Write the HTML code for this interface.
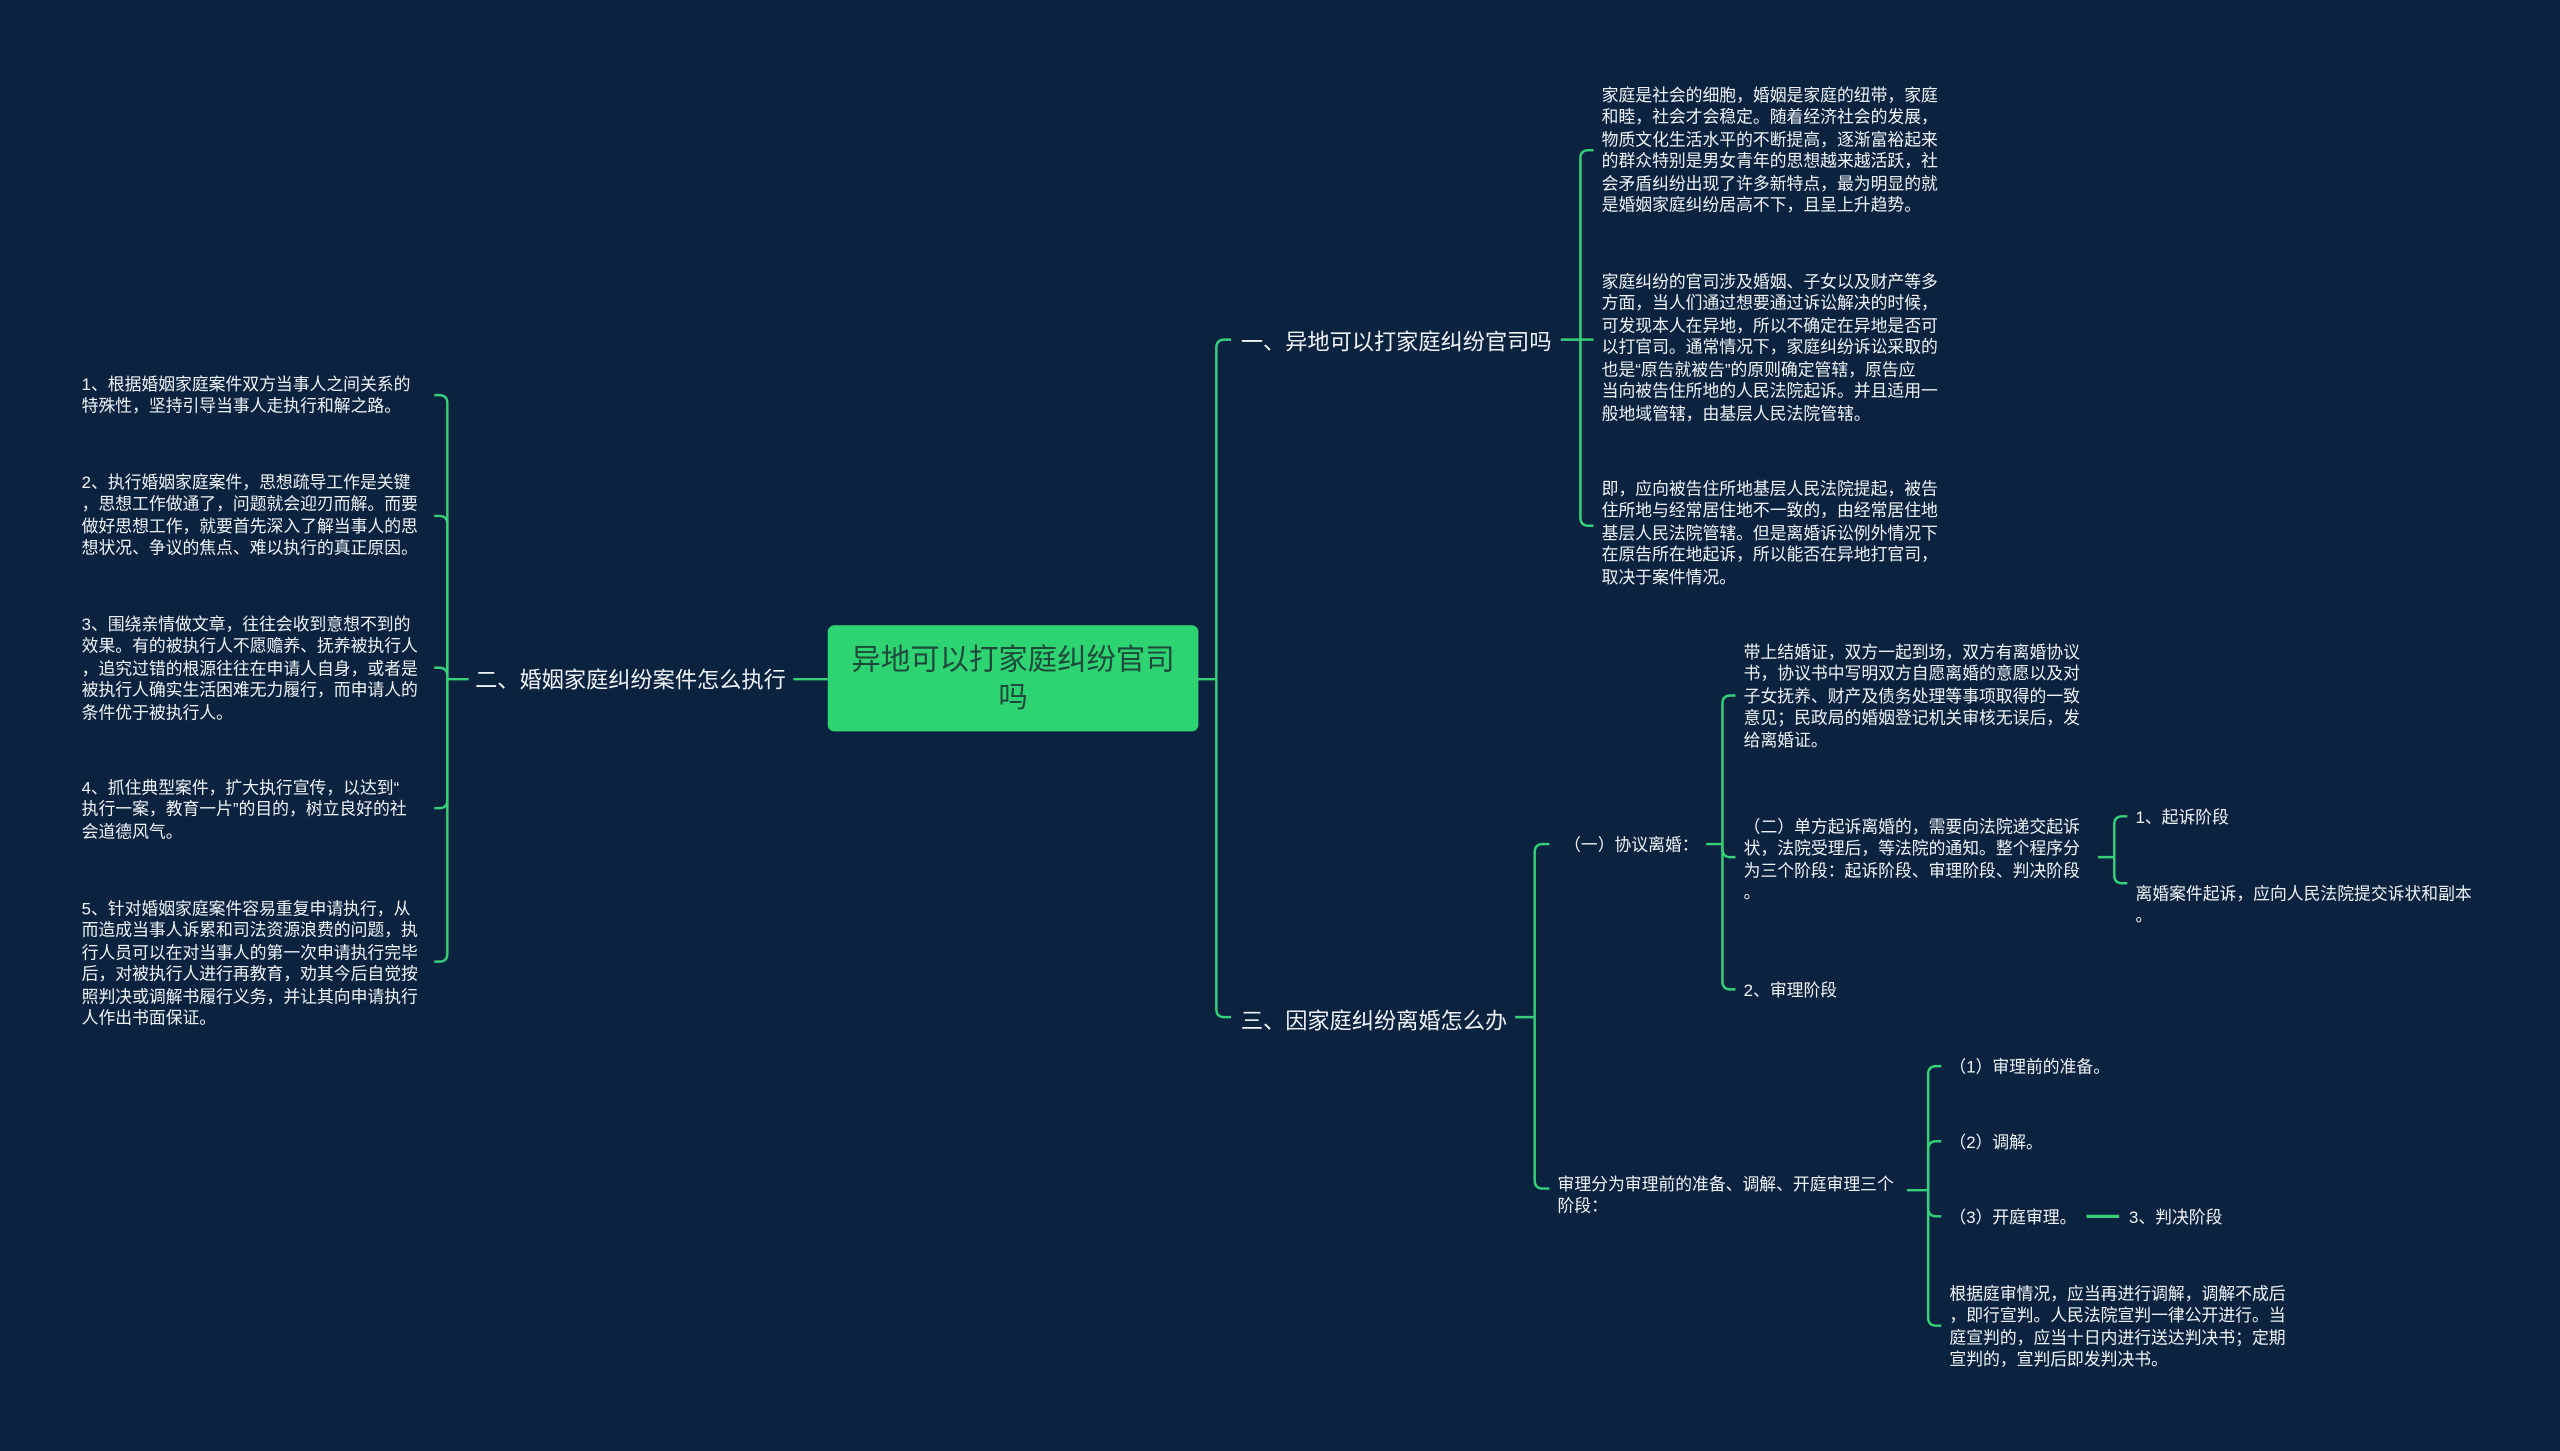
<!DOCTYPE html>
<html><head><meta charset="utf-8"><style>
html,body{margin:0;padding:0;background:#0c2340;}
#w{position:absolute;left:0;top:0;width:1568px;height:889px;transform:scale(1.63265);transform-origin:0 0;background:#0c2340;overflow:hidden;font-family:"Liberation Sans","Noto Sans CJK SC",sans-serif;color:#eef2f6;}
.t{position:absolute;font-size:10.3px;line-height:13.6px;white-space:nowrap;margin-top:1.5px;}
.b{position:absolute;font-size:13.6px;line-height:18px;white-space:nowrap;margin-top:1.5px;}
#root{position:absolute;left:507px;top:383px;width:227px;height:65px;background:#2fd472;border-radius:4px;color:#1d4a3a;font-size:18px;line-height:23px;text-align:center;display:flex;align-items:center;justify-content:center;}
svg{position:absolute;left:0;top:0;}
</style></head><body><div id="w">
<svg width="1568" height="889" fill="none" stroke="#35d07a" stroke-width="1.5">
<path d="M734 416 H745"/>
<path d="M507 416 H486"/>
<path d="M287 416 H274"/>
<path d="M274 416 V247 Q274 242 269 242 H266"/>
<path d="M274 416 V321 Q274 316 269 316 H266"/>
<path d="M274 416 V414 Q274 409 269 409 H266"/>
<path d="M274 416 V490 Q274 495 269 495 H266"/>
<path d="M274 416 V584 Q274 589 269 589 H266"/>
<path d="M745 416 V213 Q745 208 750 208 H754"/>
<path d="M745 416 V618 Q745 623 750 623 H754"/>
<path d="M956 208 H968"/>
<path d="M968 208 V97 Q968 92 973 92 H976"/>
<path d="M968 208 H976"/>
<path d="M968 208 V317 Q968 322 973 322 H976"/>
<path d="M928 623 H940"/>
<path d="M940 623 V522 Q940 517 945 517 H949"/>
<path d="M940 623 V723 Q940 728 945 728 H949"/>
<path d="M1045 517 H1055"/>
<path d="M1055 517 V431 Q1055 426 1060 426 H1063"/>
<path d="M1055 517 V520 Q1055 525 1060 525 H1063"/>
<path d="M1055 517 V601 Q1055 606 1060 606 H1063"/>
<path d="M1285 525 H1295"/>
<path d="M1295 525 V505 Q1295 500 1300 500 H1303"/>
<path d="M1295 525 V536 Q1295 541 1300 541 H1303"/>
<path d="M1168 729 H1181"/>
<path d="M1181 729 V658 Q1181 653 1186 653 H1189"/>
<path d="M1181 729 V704 Q1181 699 1186 699 H1189"/>
<path d="M1181 729 V740 Q1181 745 1186 745 H1189"/>
<path d="M1181 729 V807 Q1181 812 1186 812 H1189"/>
<path d="M1278 745 H1298" stroke-width="2"/>
</svg>
<div id="root">异地可以打家庭纠纷官司<br>吗</div>
<div class="b" style="left:291px;top:406px">二、婚姻家庭纠纷案件怎么执行</div>
<div class="b" style="left:760px;top:199px">一、异地可以打家庭纠纷官司吗</div>
<div class="b" style="left:760px;top:615px">三、因家庭纠纷离婚怎么办</div>

<div class="t" style="left:50px;top:228px">1、根据婚姻家庭案件双方当事人之间关系的<br>特殊性，坚持引导当事人走执行和解之路。</div>
<div class="t" style="left:50px;top:288px">2、执行婚姻家庭案件，思想疏导工作是关键<br>，思想工作做通了，问题就会迎刃而解。而要<br>做好思想工作，就要首先深入了解当事人的思<br>想状况、争议的焦点、难以执行的真正原因。</div>
<div class="t" style="left:50px;top:375px">3、围绕亲情做文章，往往会收到意想不到的<br>效果。有的被执行人不愿赡养、抚养被执行人<br>，追究过错的根源往往在申请人自身，或者是<br>被执行人确实生活困难无力履行，而申请人的<br>条件优于被执行人。</div>
<div class="t" style="left:50px;top:475px">4、抓住典型案件，扩大执行宣传，以达到“<br>执行一案，教育一片”的目的，树立良好的社<br>会道德风气。</div>
<div class="t" style="left:50px;top:549px">5、针对婚姻家庭案件容易重复申请执行，从<br>而造成当事人诉累和司法资源浪费的问题，执<br>行人员可以在对当事人的第一次申请执行完毕<br>后，对被执行人进行再教育，劝其今后自觉按<br>照判决或调解书履行义务，并让其向申请执行<br>人作出书面保证。</div>

<div class="t" style="left:981px;top:51px">家庭是社会的细胞，婚姻是家庭的纽带，家庭<br>和睦，社会才会稳定。随着经济社会的发展，<br>物质文化生活水平的不断提高，逐渐富裕起来<br>的群众特别是男女青年的思想越来越活跃，社<br>会矛盾纠纷出现了许多新特点，最为明显的就<br>是婚姻家庭纠纷居高不下，且呈上升趋势。</div>
<div class="t" style="left:981px;top:165px">家庭纠纷的官司涉及婚姻、子女以及财产等多<br>方面，当人们通过想要通过诉讼解决的时候，<br>可发现本人在异地，所以不确定在异地是否可<br>以打官司。通常情况下，家庭纠纷诉讼采取的<br>也是“原告就被告”的原则确定管辖，原告应<br>当向被告住所地的人民法院起诉。并且适用一<br>般地域管辖，由基层人民法院管辖。</div>
<div class="t" style="left:981px;top:292px">即，应向被告住所地基层人民法院提起，被告<br>住所地与经常居住地不一致的，由经常居住地<br>基层人民法院管辖。但是离婚诉讼例外情况下<br>在原告所在地起诉，所以能否在异地打官司，<br>取决于案件情况。</div>

<div class="t" style="left:958px;top:510px">（一）协议离婚：</div>
<div class="t" style="left:1068px;top:392px">带上结婚证，双方一起到场，双方有离婚协议<br>书，协议书中写明双方自愿离婚的意愿以及对<br>子女抚养、财产及债务处理等事项取得的一致<br>意见；民政局的婚姻登记机关审核无误后，发<br>给离婚证。</div>
<div class="t" style="left:1068px;top:499px">（二）单方起诉离婚的，需要向法院递交起诉<br>状，法院受理后，等法院的通知。整个程序分<br>为三个阶段：起诉阶段、审理阶段、判决阶段<br>。</div>
<div class="t" style="left:1068px;top:599px">2、审理阶段</div>
<div class="t" style="left:1308px;top:493px">1、起诉阶段</div>
<div class="t" style="left:1308px;top:540px">离婚案件起诉，应向人民法院提交诉状和副本<br>。</div>

<div class="t" style="left:954px;top:718px">审理分为审理前的准备、调解、开庭审理三个<br>阶段：</div>
<div class="t" style="left:1194px;top:646px">（1）审理前的准备。</div>
<div class="t" style="left:1194px;top:692px">（2）调解。</div>
<div class="t" style="left:1194px;top:738px">（3）开庭审理。</div>
<div class="t" style="left:1304px;top:738px">3、判决阶段</div>
<div class="t" style="left:1194px;top:785px">根据庭审情况，应当再进行调解，调解不成后<br>，即行宣判。人民法院宣判一律公开进行。当<br>庭宣判的，应当十日内进行送达判决书；定期<br>宣判的，宣判后即发判决书。</div>
</div></body></html>
